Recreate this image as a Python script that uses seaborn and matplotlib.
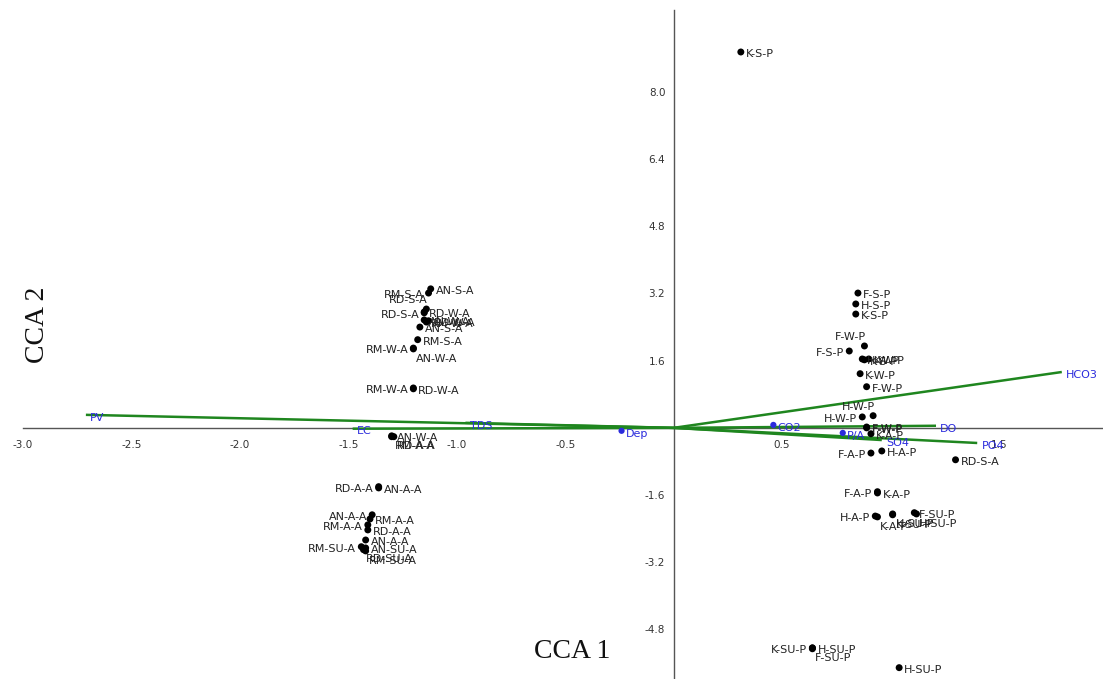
import matplotlib
matplotlib.use("Agg")
import matplotlib.pyplot as plt
import seaborn as sns
import pandas as pd

# sample scores (CCA 1, CCA 2)
sample_names = [
    "RM-S-A", "AN-S-A", "RD-S-A", "RD-S-A", "RD-W-A", "AN-W-A", "RM-W-A", "RD-W-A",
    "AN-S-A", "RM-S-A", "RM-W-A", "AN-W-A", "RM-W-A", "RD-W-A",
    "AN-W-A", "RM-A-A", "RD-A-A", "RD-A-A", "AN-A-A", "AN-A-A", "RM-A-A", "RM-A-A",
    "RD-A-A", "AN-A-A", "RM-SU-A", "AN-SU-A", "RD-SU-A", "RM-SU-A",
    "K-S-P", "F-S-P", "H-S-P", "K-S-P", "F-W-P", "F-S-P", "H-W-P", "K-S-P", "K-W-P",
    "K-W-P", "F-W-P", "H-W-P", "H-W-P", "F-W-P", "F-W-P", "K-A-P", "F-A-P", "H-A-P",
    "RD-S-A", "F-A-P", "K-A-P", "H-A-P", "K-A-P", "H-SU-P", "K-SU-P", "F-SU-P",
    "H-SU-P", "K-SU-P", "H-SU-P", "F-SU-P", "H-SU-P",
]
cca1 = [
    -1.13, -1.12, -1.14, -1.15, -1.15, -1.15, -1.14, -1.13,
    -1.17, -1.18, -1.20, -1.20, -1.20, -1.20,
    -1.30, -1.30, -1.29, -1.36, -1.36, -1.39, -1.40, -1.41,
    -1.41, -1.42, -1.44, -1.42, -1.43, -1.42,
    0.31, 0.85, 0.84, 0.84, 0.88, 0.81, 0.87, 0.88, 0.90,
    0.86, 0.89, 0.92, 0.87, 0.89, 0.89, 0.91, 0.91, 0.96,
    1.30, 0.94, 0.94, 0.93, 0.94, 1.01, 1.01, 1.11,
    1.12, 0.64, 0.64, 0.64, 1.04,
]
cca2 = [
    3.21, 3.31, 2.83, 2.74, 2.76, 2.57, 2.52, 2.55,
    2.40, 2.10, 1.90, 1.88, 0.95, 0.93,
    -0.19, -0.21, -0.21, -1.40, -1.43, -2.07, -2.17, -2.31,
    -2.43, -2.67, -2.83, -2.86, -2.90, -2.93,
    8.95, 3.21, 2.95, 2.71, 1.95, 1.83, 1.64, 1.62, 1.64,
    1.29, 0.98, 0.29, 0.26, 0.02, 0.00, -0.14, -0.60, -0.55,
    -0.76, -1.52, -1.55, -2.10, -2.12, -2.05, -2.07, -2.02,
    -2.05, -5.24, -5.24, -5.26, -5.71,
]
# where each label sits around its dot: r=right, l=left, a=above-left, b=below-right
label_side = [
    "l", "r", "a", "l", "r", "r", "r", "r",
    "r", "r", "l", "b", "l", "r",
    "r", "b", "b", "l", "r", "l", "r", "l",
    "r", "r", "l", "r", "b", "b",
    "r", "r", "r", "r", "a", "l", "r", "r", "r",
    "r", "r", "a", "l", "r", "r", "r", "l", "r",
    "r", "l", "r", "l", "b", "b", "b", "r",
    "b", "l", "r", "b", "r",
]

# environmental variables
env_names = ["PV", "EC", "TDS", "Dep", "CO2", "P/A", "DO", "PO4", "SO4", "HCO3"]
env_cca1 = [-2.71, -1.48, -0.96, -0.24, 0.46, 0.78, 1.21, 1.40, 0.96, 1.79]
env_cca2 = [0.31, -0.02, 0.12, -0.07, 0.07, -0.12, 0.05, -0.36, -0.29, 1.33]
env_as_point = [False, False, False, True, True, True, False, False, False, False]

x_ticks = [-3.0, -2.5, -2.0, -1.5, -1.0, -0.5, 0.5, 1.0, 1.5]
x_tick_labels = ["-3.0", "-2.5", "-2.0", "-1.5", "-1.0", "-0.5", "0.5", "", "1.5"]
y_ticks = [-4.8, -3.2, -1.6, 1.6, 3.2, 4.8, 6.4, 8.0]

sns.set_style("white")
plt.rcParams['font.family'] = ['DejaVu Sans']

fig = plt.figure(figsize=(11.03, 6.79), dpi=100)
ax = fig.add_axes([23 / 1103, 0, 1080 / 1103, 669 / 679])

samples = pd.DataFrame({"CCA 1": cca1, "CCA 2": cca2, "name": sample_names, "side": label_side})
env = pd.DataFrame({"CCA 1": env_cca1, "CCA 2": env_cca2, "name": env_names, "point": env_as_point})

# vectors
green = "#1f861f"
blue = "#2b2bdc"
for _, r in env[~env["point"]].iterrows():
    ax.plot([0, r["CCA 1"]], [0, r["CCA 2"]], color=green, lw=1.8, zorder=3, solid_capstyle="butt")
sns.scatterplot(data=env[env["point"]], x="CCA 1", y="CCA 2", color=blue, s=20,
                edgecolor="none", ax=ax, zorder=4, legend=False)
for _, r in env.iterrows():
    ax.annotate(r["name"], (r["CCA 1"], r["CCA 2"]), xytext=(3, -2), textcoords="offset points",
                ha="left", va="center", fontsize=8, color=blue, zorder=5)

# sample points
sns.scatterplot(data=samples, x="CCA 1", y="CCA 2", color="black", s=25,
                edgecolor="none", ax=ax, zorder=4, legend=False)
offsets = {"r": ((3.6, -1.5), "left"), "l": ((-3.6, -1.5), "right"),
           "a": ((1, 6.5), "right"), "b": ((2, -7), "left")}
for _, r in samples.iterrows():
    off, ha = offsets[r["side"]]
    ax.annotate(r["name"], (r["CCA 1"], r["CCA 2"]), xytext=off, textcoords="offset points",
                ha=ha, va="center", fontsize=8, color="#222222", zorder=5)

ax.set_xlim(-3.0, 1.98)
ax.set_ylim(-5.98, 9.95)
for s in ["top", "right"]:
    ax.spines[s].set_visible(False)
for s in ["left", "bottom"]:
    ax.spines[s].set_position(("data", 0))
    ax.spines[s].set_color("#555555")
    ax.spines[s].set_linewidth(1.0)
ax.set_xticks(x_ticks)
ax.set_xticklabels(x_tick_labels)
ax.set_yticks(y_ticks)
ax.set_yticklabels([f"{v:.1f}" for v in y_ticks])
ax.tick_params(direction="out", length=4, width=1, colors="#555555",
               labelcolor="#333333", labelsize=7.5, pad=2)
ax.tick_params(axis="x", pad=5)
ax.set_xlabel("")
ax.set_ylabel("")

serif = ["Liberation Serif", "DejaVu Serif"]
fig.text(38 / 1103, 1 - 325 / 679, "CCA 2", rotation=90, ha="center", va="center",
         fontsize=20, family=serif, color="#111111")
fig.text(572 / 1103, 1 - 652 / 679, "CCA 1", ha="center", va="center",
         fontsize=20, family=serif, color="#111111")

fig.savefig("out.png", dpi=100)
